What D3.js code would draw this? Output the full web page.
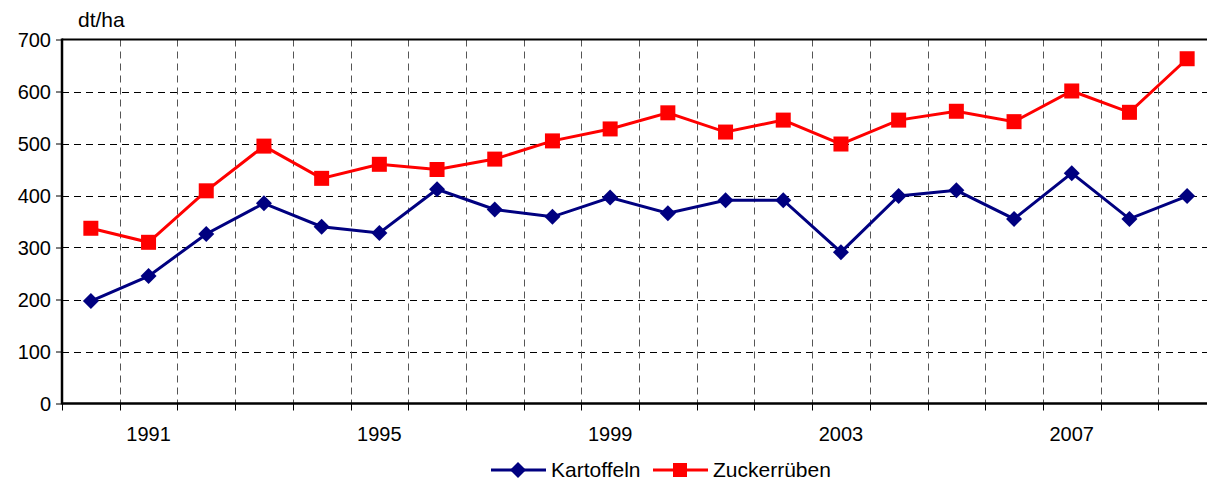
<!DOCTYPE html>
<html lang="de">
<head>
<meta charset="UTF-8">
<title>Hektarerträge</title>
<script src="https://d3js.org/d3.v7.min.js"></script>
<style>
  body { margin: 0; background: #fff; font-family: "Liberation Sans", Arial, sans-serif; }
  svg text { font-family: "Liberation Sans", Arial, sans-serif; fill: #000; }
</style>
</head>
<body>
<div id="chart"></div>
<script>
// data
var years = d3.range(1990, 2010);
var kartoffeln = [197, 245, 326, 385, 340, 328, 412, 373, 359, 396, 366, 391, 391, 291, 399, 410, 355, 443, 355, 399];
var zucker = [337, 310, 409, 495, 433, 460, 450, 470, 505, 528, 559, 522, 545, 499, 545, 562, 542, 601, 560, 663];
var yTicks = [0, 100, 200, 300, 400, 500, 600, 700];
var xLabels = [1991, 1995, 1999, 2003, 2007];

var W = 1207, H = 482;
var pLeft = 62, pRight = 1216, pTop = 39.5, pBottom = 403.5;
var fs = "20px";

var svg = d3.select("#chart").append("svg")
    .attr("width", W).attr("height", H);

var x = d3.scaleBand().domain(years).range([pLeft, pRight]);
var y = d3.scaleLinear().domain([0, 700]).range([pBottom, pTop]);

// horizontal grid
svg.append("g").selectAll("line")
    .data(yTicks.filter(d => d > 0 && d < 700))
    .enter().append("line")
    .attr("x1", pLeft).attr("x2", pRight)
    .attr("y1", d => Math.round(y(d)) + 0.5).attr("y2", d => Math.round(y(d)) + 0.5)
    .attr("stroke", "#000").attr("stroke-width", 1)
    .attr("stroke-dasharray", "7,5");

// vertical grid at category boundaries
var bounds = years.slice(1).map(d => x(d));
svg.append("g").selectAll("line")
    .data(bounds)
    .enter().append("line")
    .attr("x1", d => Math.round(d) + 0.5).attr("x2", d => Math.round(d) + 0.5)
    .attr("y1", pTop).attr("y2", pBottom)
    .attr("stroke", "#555").attr("stroke-width", 1)
    .attr("stroke-dasharray", "7,5");

// frame top
svg.append("line")
    .attr("x1", pLeft).attr("x2", pRight)
    .attr("y1", pTop).attr("y2", pTop)
    .attr("stroke", "#000").attr("stroke-width", 2);

// y axis
var yAxis = svg.append("g")
    .attr("transform", "translate(" + pLeft + ",0)")
    .call(d3.axisLeft(y).tickValues(yTicks).tickSize(6).tickPadding(5));
yAxis.select(".domain").remove();
yAxis.selectAll(".tick line").attr("stroke", "#000");
yAxis.selectAll("text").style("font-size", fs).attr("dy", "0.35em");

svg.append("line")
    .attr("x1", pLeft).attr("x2", pLeft)
    .attr("y1", pTop - 1).attr("y2", pBottom + 1)
    .attr("stroke", "#000").attr("stroke-width", 2.5);

// x axis ticks at boundaries
svg.append("g").selectAll("line")
    .data([pLeft].concat(bounds))
    .enter().append("line")
    .attr("x1", d => Math.round(d) + 0.5).attr("x2", d => Math.round(d) + 0.5)
    .attr("y1", pBottom).attr("y2", pBottom + 7)
    .attr("stroke", "#000").attr("stroke-width", 1);

svg.append("line")
    .attr("x1", pLeft).attr("x2", pRight)
    .attr("y1", pBottom).attr("y2", pBottom)
    .attr("stroke", "#000").attr("stroke-width", 2.5);

// x labels
svg.append("g").selectAll("text")
    .data(xLabels)
    .enter().append("text")
    .attr("x", d => x(d) + x.bandwidth() / 2)
    .attr("y", 441)
    .attr("text-anchor", "middle")
    .style("font-size", fs)
    .text(d => d);

// unit
svg.append("text")
    .attr("x", 78).attr("y", 27)
    .style("font-size", "21px")
    .text("dt/ha");

var cx = d => x(d) + x.bandwidth() / 2;
var line = d3.line().x((d, i) => cx(years[i])).y(d => y(d));

// Zuckerrüben
svg.append("path").datum(zucker)
    .attr("d", line).attr("fill", "none")
    .attr("stroke", "#ff0000").attr("stroke-width", 3);
svg.append("g").selectAll("rect")
    .data(zucker).enter().append("rect")
    .attr("x", (d, i) => cx(years[i]) - 7.5)
    .attr("y", d => y(d) - 7.5)
    .attr("width", 15).attr("height", 15)
    .attr("fill", "#ff0000");

// Kartoffeln
svg.append("path").datum(kartoffeln)
    .attr("d", line).attr("fill", "none")
    .attr("stroke", "#000080").attr("stroke-width", 3);
var diamond = "M0,-8L8,0L0,8L-8,0Z";
svg.append("g").selectAll("path")
    .data(kartoffeln).enter().append("path")
    .attr("d", diamond)
    .attr("transform", (d, i) => "translate(" + cx(years[i]) + "," + y(d) + ")")
    .attr("fill", "#000080");

// legend
var leg = svg.append("g");
leg.append("line").attr("x1", 491).attr("x2", 546).attr("y1", 470).attr("y2", 470)
    .attr("stroke", "#000080").attr("stroke-width", 3);
leg.append("path").attr("d", diamond).attr("transform", "translate(518,470)").attr("fill", "#000080");
leg.append("text").attr("x", 551).attr("y", 477).style("font-size", "21px").text("Kartoffeln");

leg.append("line").attr("x1", 653).attr("x2", 708).attr("y1", 470).attr("y2", 470)
    .attr("stroke", "#ff0000").attr("stroke-width", 3);
leg.append("rect").attr("x", 673).attr("y", 463).attr("width", 14).attr("height", 14).attr("fill", "#ff0000");
leg.append("text").attr("x", 713).attr("y", 477).style("font-size", "21px").text("Zuckerrüben");
</script>
</body>
</html>
